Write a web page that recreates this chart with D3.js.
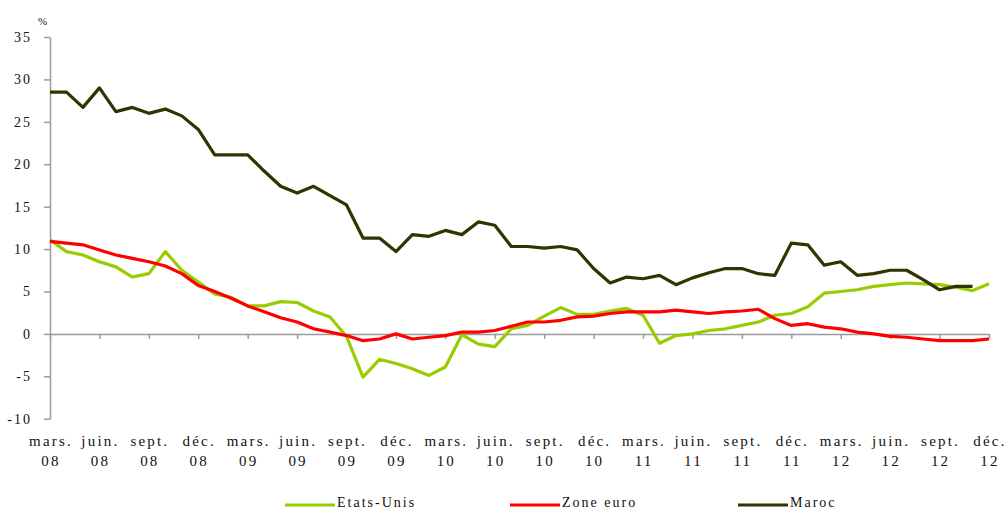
<!DOCTYPE html>
<html>
<head>
<meta charset="utf-8">
<script src="https://cdn.jsdelivr.net/npm/d3@7"></script>
<style>
    body { margin: 0; background: #fff; }
    svg text { font-family: "Liberation Serif", "Times New Roman", serif; fill: #111; }
</style>
</head>
<body>
<div id="chart"></div>
<script>
// monthly series, mars 08 .. déc 12 (Maroc stops at nov 12)
const etatsUnis = [11.1, 9.7, 9.3, 8.5, 7.9, 6.7, 7.1, 9.7, 7.5, 6.1, 4.7, 4.3,
    3.3, 3.3, 3.8, 3.7, 2.7, 2.0, -0.3, -5.1, -3.0, -3.5, -4.1, -4.9,
    -3.9, -0.1, -1.2, -1.5, 0.6, 1.0, 2.1, 3.1, 2.3, 2.3, 2.7, 3.0,
    2.2, -1.1, -0.2, 0.0, 0.4, 0.6, 1.0, 1.4, 2.2, 2.4, 3.2, 4.8,
    5.0, 5.2, 5.6, 5.8, 6.0, 5.9, 5.8, 5.5, 5.1, 5.9];
const zoneEuro = [10.9, 10.7, 10.5, 9.9, 9.3, 8.9, 8.5, 8.0, 7.1, 5.7, 5.0, 4.2,
    3.3, 2.6, 1.9, 1.4, 0.6, 0.2, -0.2, -0.8, -0.6, 0.0, -0.6, -0.4,
    -0.2, 0.2, 0.2, 0.4, 0.9, 1.4, 1.4, 1.6, 2.0, 2.1, 2.4, 2.6,
    2.6, 2.6, 2.8, 2.6, 2.4, 2.6, 2.7, 2.9, 1.8, 1.0, 1.2, 0.8,
    0.6, 0.2, 0.0, -0.3, -0.4, -0.6, -0.8, -0.8, -0.8, -0.6];
const maroc = [28.5, 28.5, 26.7, 29.0, 26.2, 26.7, 26.0, 26.5, 25.7, 24.1, 21.1, 21.1,
    21.1, 19.2, 17.4, 16.6, 17.4, 16.3, 15.2, 11.3, 11.3, 9.7, 11.7, 11.5,
    12.2, 11.7, 13.2, 12.8, 10.3, 10.3, 10.1, 10.3, 9.9, 7.7, 6.0, 6.7,
    6.5, 6.9, 5.8, 6.6, 7.2, 7.7, 7.7, 7.1, 6.9, 10.7, 10.5, 8.1,
    8.5, 6.9, 7.1, 7.5, 7.5, 6.4, 5.2, 5.6, 5.6];

const monthLabels = ["mars.", "juin.", "sept.", "déc."];
const yearLabels = ["08", "09", "10", "11", "12"];
const yTicks = [-10, -5, 0, 5, 10, 15, 20, 25, 30, 35];

const series = [
    {name: "Etats-Unis", values: etatsUnis, color: "#99cc00"},
    {name: "Zone euro", values: zoneEuro, color: "#ff0000"},
    {name: "Maroc", values: maroc, color: "#333300"}
];

const width = 1008, height = 510;
const axisColor = "#9a9a9a";
const serif = "Liberation Serif";

let svg = d3.select("#chart")
    .append("svg")
    .attr("width", width)
    .attr("height", height);

let xScale = d3.scaleLinear()
    .domain([0, etatsUnis.length - 1])
    .range([50, 989]);

let yScale = d3.scaleLinear()
    .domain([-10, 35])
    .range([418.7, 37]);

// y axis (plain hyphen for negatives, like the original)
let yAxis = svg.append("g")
    .attr("transform", "translate(50,0)")
    .attr("font-family", serif)
    .call(d3.axisLeft(yScale).tickValues(yTicks).tickSize(6).tickSizeOuter(0)
        .tickFormat(d => String(d)));
yAxis.select(".domain").attr("stroke", axisColor).attr("stroke-width", 1.5);
yAxis.selectAll(".tick line").attr("stroke", axisColor).attr("stroke-width", 1.5);
yAxis.selectAll(".tick text")
    .style("font-size", "14px")
    .style("letter-spacing", "2px")
    .attr("fill", "#111")
    .attr("x", -18);

svg.append("text")
    .attr("x", 38)
    .attr("y", 25)
    .style("font-size", "11px")
    .text("%");

// x axis on the zero line
let quarterIdx = d3.range(0, etatsUnis.length, 3);
let xAxis = svg.append("g")
    .attr("transform", "translate(0," + yScale(0) + ")")
    .call(d3.axisBottom(xScale).tickValues(quarterIdx).tickSize(5).tickFormat("").tickSizeOuter(0));
xAxis.select(".domain").attr("stroke", axisColor).attr("stroke-width", 1.5);
xAxis.selectAll(".tick line").attr("stroke", axisColor).attr("stroke-width", 1.5);

// two-line category labels
let labels = svg.append("g")
    .style("font-size", "15px")
    .style("letter-spacing", "2.2px")
    .attr("text-anchor", "middle");
quarterIdx.forEach((idx, k) => {
    labels.append("text")
        .attr("x", xScale(idx) + 1)
        .attr("y", 446)
        .text(monthLabels[k % 4]);
    labels.append("text")
        .attr("x", xScale(idx) + 1)
        .attr("y", 466)
        .text(yearLabels[Math.floor(k / 4)]);
});

// lines
let line = d3.line()
    .x((d, i) => xScale(i))
    .y(d => yScale(d))
    .curve(d3.curveLinear);

series.forEach(s => {
    svg.append("path")
        .attr("d", line(s.values))
        .style("fill", "none")
        .style("stroke", s.color)
        .style("stroke-width", 3.2)
        .style("stroke-linejoin", "round");
});

// legend
let legendX = [285, 510, 738];
series.forEach((s, i) => {
    svg.append("line")
        .attr("x1", legendX[i])
        .attr("x2", legendX[i] + 50)
        .attr("y1", 505)
        .attr("y2", 505)
        .style("stroke", s.color)
        .style("stroke-width", 3.2);
    svg.append("text")
        .attr("x", legendX[i] + 52)
        .attr("y", 507)
        .style("font-size", "14px")
        .style("letter-spacing", "2px")
        .text(s.name);
});
</script>
</body>
</html>
